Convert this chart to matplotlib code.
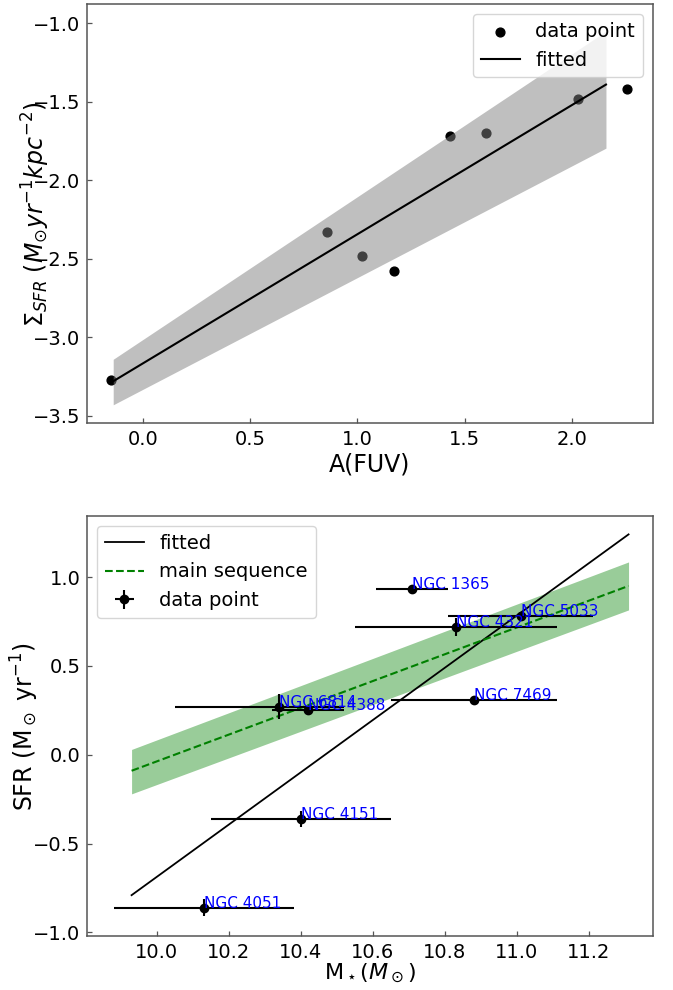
import matplotlib
matplotlib.use("Agg")
import matplotlib.pyplot as plt
import numpy as np

# ---------------- top panel data ----------------
afuv = [-0.15, 0.86, 1.02, 1.17, 1.43, 1.60, 2.03, 2.26]
sigma_sfr = [-3.27, -2.33, -2.48, -2.58, -1.72, -1.70, -1.48, -1.42]
fit1_x = [-0.14, 2.16]
fit1_y = [-3.28, -1.39]
band1_x = [-0.14, 2.16]
band1_hi = [-3.14, -1.05]
band1_lo = [-3.43, -1.795]

# ---------------- bottom panel data ----------------
names = ["NGC 1365", "NGC 5033", "NGC 4321", "NGC 7469", "NGC 6814",
         "NGC 4388", "NGC 4151", "NGC 4051"]
mstar = [10.71, 11.01, 10.83, 10.88, 10.34, 10.42, 10.40, 10.13]
sfr = [0.93, 0.78, 0.72, 0.31, 0.27, 0.25, -0.36, -0.86]
xerr_lo = [0.10, 0.20, 0.28, 0.23, 0.29, 0.10, 0.25, 0.25]
xerr_hi = [0.10, 0.20, 0.28, 0.23, 0.18, 0.10, 0.25, 0.25]
yerr = [0.02, 0.02, 0.05, 0.02, 0.07, 0.02, 0.045, 0.05]
fit2_x = [9.93, 11.31]
fit2_y = [-0.79, 1.24]
ms_x = [9.93, 11.31]
ms_y = [-0.09, 0.95]
ms_hi = [0.03, 1.085]
ms_lo = [-0.22, 0.815]

plt.rcParams['font.family'] = ['DejaVu Sans']
plt.rcParams['mathtext.fontset'] = 'dejavusans'

fig = plt.figure(figsize=(6.73, 9.9), dpi=100)
ax1 = fig.add_axes([0.1297, 0.5724, 0.8401, 0.4232])
ax2 = fig.add_axes([0.1297, 0.0545, 0.8401, 0.4242])

spine_col = '#555555'
for ax in (ax1, ax2):
    for s in ax.spines.values():
        s.set_color(spine_col)
        s.set_linewidth(1.1)
    ax.tick_params(direction='in', length=3.5, width=0.9, color=spine_col,
                   labelsize=14, pad=5)

# top
ax1.scatter(afuv, sigma_sfr, s=40, color='black', label='data point', zorder=1)
ax1.fill_between(band1_x, band1_lo, band1_hi, color='gray', alpha=0.5,
                 linewidth=0, zorder=2)
ax1.plot(fit1_x, fit1_y, color='black', lw=1.5, label='fitted', zorder=3)
ax1.set_xlim(-0.261, 2.378)
ax1.set_ylim(-3.548, -0.879)
ax1.set_xticks([0.0, 0.5, 1.0, 1.5, 2.0])
ax1.set_yticks([-3.5, -3.0, -2.5, -2.0, -1.5, -1.0])
ax1.set_xlabel('A(FUV)', fontsize=17, labelpad=2)
ax1.set_ylabel(r'$\Sigma_{SFR}$ $(M_{\odot}yr^{-1}kpc^{-2})$', fontsize=17)
ax1.yaxis.set_label_coords(-0.062, 0.5)
ax1.legend(loc='upper right', fontsize=14, handlelength=2.0)

# bottom
ax2.plot(fit2_x, fit2_y, color='black', lw=1.3, label='fitted')
ax2.plot(ms_x, ms_y, color='green', ls='--', lw=1.5, label='main sequence')
ax2.fill_between(ms_x, ms_lo, ms_hi, color='green', alpha=0.4, linewidth=0)
ax2.errorbar(mstar, sfr, xerr=[xerr_lo, xerr_hi], yerr=yerr, fmt='o',
             color='black', ms=6, elinewidth=1.5, label='data point')
for n, x, y in zip(names, mstar, sfr):
    ax2.text(x, y, n, color='blue', fontsize=11)
ax2.set_xlim(9.807, 11.377)
ax2.set_ylim(-1.02, 1.343)
ax2.set_xticks([10.0, 10.2, 10.4, 10.6, 10.8, 11.0, 11.2])
ax2.set_yticks([-1.0, -0.5, 0.0, 0.5, 1.0])
ax2.set_xlabel(r'M$_\star$$(M_\odot)$', fontsize=16, labelpad=0)
ax2.set_ylabel(r'SFR (M$_\odot$ yr$^{-1}$)', fontsize=17)
ax2.yaxis.set_label_coords(-0.082, 0.5)
ax2.legend(loc='upper left', fontsize=14)

fig.savefig('out.png', dpi=100)
